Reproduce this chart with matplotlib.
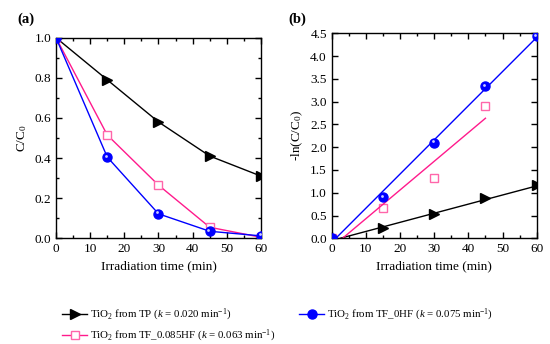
import numpy as np
import matplotlib
matplotlib.use('Agg')
import matplotlib.pyplot as plt
from matplotlib.lines import Line2D
from matplotlib.transforms import offset_copy

plt.rcParams['font.family'] = 'Liberation Serif'
plt.rcParams['mathtext.fontset'] = 'custom'
plt.rcParams['mathtext.rm'] = 'Liberation Serif'
plt.rcParams['mathtext.it'] = 'Liberation Serif:italic'

t = [0, 15, 30, 45, 60]
c_tp = [1.0, 0.79, 0.58, 0.41, 0.31]
c_0hf = [1.0, 0.405, 0.122, 0.035, 0.012]
c_085hf = [1.0, 0.515, 0.265, 0.055, 0.005]

# -ln(C/C0)
t_b = [0, 15, 30, 45, 60]
ln_tp = [0.0, 0.23, 0.54, 0.89, 1.17]
ln_0hf = [0.0, 0.905, 2.10, 3.34, 4.43]
t_b_pink = [0, 15, 30, 45]
ln_085hf = [0.0, 0.66, 1.32, 2.91]

# linear fits: slope k, intercept, x-range
fit_k = [0.020, 0.075, 0.063]
fit_b = [-0.05, -0.09, -0.20]
fit_x = [(2.5, 60), (1.2, 60), (3.2, 45)]

black = 'black'
blue = '#0000FF'
pink = '#FF1A8C'
pink_m = '#FF66AA'

fig = plt.figure(figsize=(5.5, 3.44), dpi=100)
ax1 = fig.add_axes([0.1018, 0.3073, 0.3727, 0.5831])
ax2 = fig.add_axes([0.6031, 0.3073, 0.3727, 0.5959])


def hilite(ax, x, y):
    tr = offset_copy(ax.transData, fig=fig, x=-1.4, y=1.4, units='dots')
    ax.plot(x, y, 'o', color='#CCCCFF', ms=2, mec='none', transform=tr, zorder=5)


# panel (a)
ax1.plot(t, c_tp, '-', color=black, lw=1, marker='>', ms=7.5)
ax1.plot(t, c_085hf, '-', color=pink, lw=1, marker='s', ms=6, mfc='white', mec=pink_m)
ax1.plot(t, c_0hf, '-', color=blue, lw=1, marker='o', ms=6.5, zorder=4)
hilite(ax1, t, c_0hf)
ax1.set_xlim(0, 60)
ax1.set_ylim(0, 1.0)
ax1.set_xticks(np.arange(0, 61, 10))
ax1.set_xticks(np.arange(0, 61, 5), minor=True)
ax1.set_yticks(np.arange(0, 1.01, 0.2))
ax1.set_yticks(np.arange(0, 1.01, 0.1), minor=True)
ax1.set_yticklabels(['%.1f' % v for v in np.arange(0, 1.01, 0.2)])
ax1.set_xlabel('Irradiation time (min)', fontsize=9.5)
ax1.set_ylabel('C/C$_0$', fontsize=9.5)

# panel (b)
ax2.plot(t_b, ln_tp, ' ', color=black, marker='>', ms=7.5)
ax2.plot(t_b_pink, ln_085hf, ' ', marker='s', ms=6, mfc='white', mec=pink_m)
ax2.plot(t_b, ln_0hf, ' ', color=blue, marker='o', ms=6.5, zorder=4)
hilite(ax2, t_b, ln_0hf)
for k, b, (x0, x1), col in zip(fit_k, fit_b, fit_x, [black, blue, pink]):
    xx = np.array([x0, x1])
    ax2.plot(xx, k * xx + b, '-', color=col, lw=1)
ax2.set_xlim(0, 60)
ax2.set_ylim(0, 4.5)
ax2.set_xticks(np.arange(0, 61, 10))
ax2.set_xticks(np.arange(0, 61, 5), minor=True)
ax2.set_yticks(np.arange(0, 4.51, 0.5))
ax2.set_yticklabels(['%.1f' % v for v in np.arange(0, 4.51, 0.5)])
ax2.set_xlabel('Irradiation time (min)', fontsize=9.5)
ax2.set_ylabel('-ln(C/C$_0$)', fontsize=9.5)

for ax in (ax1, ax2):
    ax.tick_params(which='both', direction='in', top=True, right=True, labelsize=9.5)
    ax.tick_params(which='major', length=4, width=1)
    ax.tick_params(which='minor', length=2.5, width=1)
    for s in ax.spines.values():
        s.set_linewidth(1)

fig.text(0.031, 0.935, '(a)', fontsize=10.5, fontweight='bold')
fig.text(0.524, 0.935, '(b)', fontsize=10.5, fontweight='bold')

handles = [
    Line2D([], [], color=black, lw=1, marker='>', ms=7),
    Line2D([], [], color=pink, lw=1, marker='s', ms=6, mfc='white', mec=pink_m),
    Line2D([], [], color=blue, lw=1, marker='o', ms=6.5),
]
labels = [
    'TiO$_2$ from TP ($k$ = 0.020 min$^{-1}$)',
    'TiO$_2$ from TF_0.085HF ($k$ = 0.063 min$^{-1}$)',
    'TiO$_2$ from TF_0HF ($k$ = 0.075 min$^{-1}$)',
]
fig.legend(handles, labels, ncol=2, loc='upper left', bbox_to_anchor=(0.113, 0.108),
           frameon=False, fontsize=7.8, handlelength=2.3, handletextpad=0.3,
           columnspacing=2.2, labelspacing=0.45, borderaxespad=0, borderpad=0)

fig.savefig('out.png', dpi=100)
